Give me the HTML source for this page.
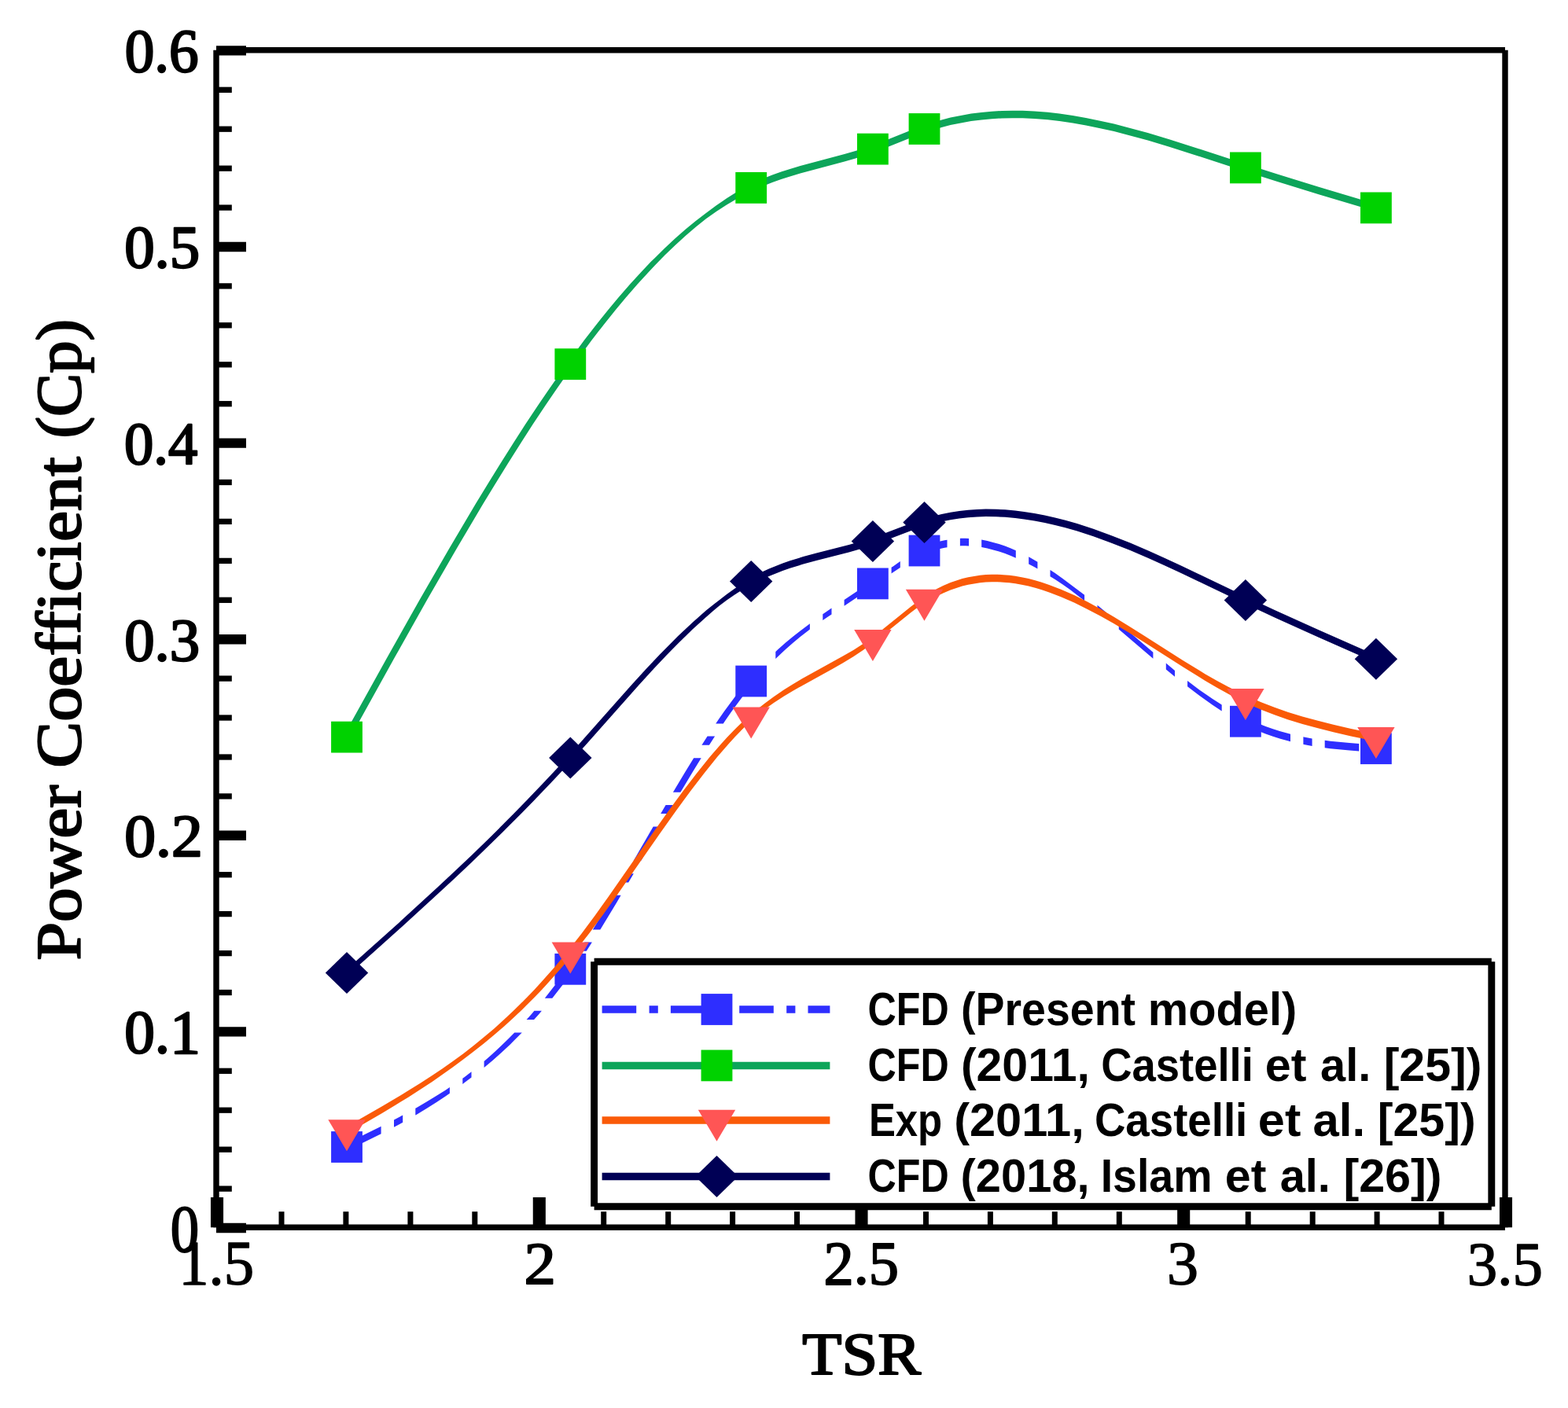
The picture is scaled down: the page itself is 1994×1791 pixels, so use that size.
<!DOCTYPE html>
<html lang="en"><head><meta charset="utf-8"><title>Power Coefficient vs TSR</title>
<style>html,body{margin:0;padding:0;background:#fff;}svg{display:block;}text{font-family:"Liberation Serif",serif;fill:#000;}.lg{font-family:"Liberation Sans",sans-serif;font-weight:bold;}</style></head><body>
<svg width="1994" height="1791" viewBox="0 0 1994 1791">
<rect width="1994" height="1791" fill="#fff"/>
<g id="series-blue">
<path d="M441.0,1454.2 L484.1,1433.1 L484.6,1432.8 L484.6,1442.3 L484.1,1442.6 L441.0,1463.8Z M501.0,1424.5 L512.2,1418.6 L512.2,1427.7 L501.0,1433.7Z M528.3,1409.7 L529.0,1409.4 L542.1,1401.8 L555.2,1393.8 L566.5,1386.7 L571.9,1383.0 L571.9,1390.8 L566.5,1394.6 L555.2,1402.1 L542.1,1410.3 L529.0,1418.2 L528.3,1418.6Z M588.3,1371.7 L590.8,1369.9 L599.5,1363.2 L599.5,1370.5 L590.8,1377.1 L588.3,1379.0Z M648.9,1319.1 L653.5,1323.8 L648.9,1328.4 L644.2,1323.8Z M615.6,1350.0 L626.4,1340.5 L637.6,1330.1 L648.9,1319.1 L648.9,1328.4 L637.6,1338.9 L626.4,1348.9 L615.6,1357.9Z M644.2,1323.8 L653.5,1314.3 L654.3,1313.4 L663.8,1313.4 L663.0,1314.3 L653.5,1323.8Z M669.6,1297.0 L675.9,1289.9 L679.4,1285.8 L688.9,1285.8 L685.4,1289.9 L679.1,1297.0Z M692.8,1269.7 L696.5,1265.0 L707.8,1250.4 L717.1,1237.6 L725.2,1226.1 L734.7,1226.1 L726.6,1237.6 L717.3,1250.4 L706.0,1265.0 L702.3,1269.7Z M736.3,1209.7 L743.4,1198.5 L752.9,1198.5 L745.8,1209.7Z M753.8,1182.4 L754.6,1181.2 L775.2,1147.3 L780.1,1138.8 L789.6,1138.8 L784.7,1147.3 L764.1,1181.2 L763.3,1182.4Z M789.7,1122.4 L796.3,1111.2 L805.8,1111.2 L799.2,1122.4Z M805.6,1095.1 L830.7,1051.5 L840.2,1051.5 L815.1,1095.1Z M840.2,1035.1 L846.6,1023.9 L856.1,1023.9 L849.7,1035.1Z M855.9,1007.8 L870.7,982.9 L882.2,964.2 L891.7,964.2 L880.2,982.9 L865.4,1007.8Z M892.4,947.8 L899.6,936.6 L909.1,936.6 L901.9,947.8Z M910.2,920.5 L913.7,915.3 L921.2,904.6 L936.2,884.2 L942.0,876.9 L951.5,876.9 L945.7,884.2 L930.7,904.6 L923.2,915.3 L919.7,920.5Z M955.6,860.5 L958.7,857.0 L965.8,849.3 L975.3,849.3 L968.2,857.0 L965.1,860.5Z M986.3,828.9 L989.7,825.8 L999.0,817.6 L1008.4,809.8 L1017.7,802.5 L1029.0,794.0 L1029.9,793.3 L1029.9,800.5 L1029.0,801.2 L1017.7,809.9 L1008.4,817.7 L999.0,825.9 L989.7,834.7 L986.3,838.0Z M1046.3,781.3 L1051.4,777.7 L1057.5,773.6 L1057.5,781.5 L1051.4,785.5 L1046.3,789.0Z M1073.6,762.9 L1102.0,743.9 L1117.2,733.3 L1117.2,741.0 L1102.0,751.7 L1073.6,770.7Z M1133.6,721.8 L1135.7,720.4 L1144.8,714.1 L1144.8,722.0 L1135.7,728.0 L1133.6,729.5Z M1160.9,703.6 L1165.7,700.8 L1175.0,696.0 L1182.5,692.8 L1188.1,690.8 L1195.6,688.6 L1201.2,687.3 L1204.5,686.8 L1204.5,696.3 L1201.2,696.8 L1195.6,698.1 L1188.1,700.3 L1182.5,702.3 L1175.0,705.5 L1165.7,709.9 L1160.9,712.5Z M1220.9,684.9 L1221.8,684.8 L1227.5,684.8 L1232.1,685.0 L1232.1,694.5 L1227.5,694.3 L1221.8,694.3 L1220.9,694.4Z M1248.2,686.6 L1255.6,688.0 L1263.0,689.9 L1270.5,692.0 L1278.0,694.6 L1285.5,697.5 L1291.8,700.2 L1291.8,709.7 L1285.5,707.0 L1278.0,704.1 L1270.5,701.5 L1263.0,699.4 L1255.6,697.5 L1248.2,696.1Z M1308.2,708.2 L1315.5,712.4 L1319.4,714.8 L1319.4,723.4 L1315.5,721.2 L1308.2,717.5Z M1335.5,725.0 L1341.7,729.1 L1351.1,735.7 L1360.4,742.7 L1379.1,756.8 L1379.1,764.2 L1360.4,749.8 L1351.1,743.3 L1341.7,737.1 L1335.5,733.2Z M1395.5,769.8 L1399.7,773.2 L1406.7,779.0 L1406.7,786.9 L1399.7,781.0 L1395.5,777.6Z M1422.8,792.5 L1466.4,829.7 L1466.4,837.8 L1422.8,800.6Z M1482.8,843.6 L1493.4,852.4 L1494.0,853.0 L1494.0,860.7 L1493.4,860.2 L1482.8,851.5Z M1510.1,865.9 L1525.2,877.4 L1542.0,889.0 L1553.7,896.4 L1553.7,904.6 L1542.0,896.8 L1525.2,884.7 L1510.1,873.3Z M1570.1,905.9 L1573.9,908.0 L1581.3,911.7 L1581.3,921.1 L1573.9,917.0 L1570.1,914.7Z M1597.4,919.1 L1600.1,920.3 L1609.5,924.0 L1618.8,927.3 L1628.2,930.2 L1637.5,932.8 L1641.0,933.7 L1641.0,943.2 L1637.5,942.3 L1628.2,939.7 L1618.8,936.8 L1609.5,933.5 L1600.1,929.8 L1597.4,928.6Z M1657.4,937.3 L1658.1,937.5 L1668.6,939.4 L1668.6,948.9 L1658.1,947.0 L1657.4,946.8Z M1684.7,941.8 L1691.9,942.7 L1716.2,945.1 L1728.3,945.9 L1728.3,955.4 L1716.2,954.6 L1691.9,952.2 L1684.7,951.3Z M1744.7,947.1 L1749.9,947.5 L1749.9,957.0 L1744.7,956.6Z" fill="#2E2EFF"/>
<rect x="421.1" y="1439.1" width="39.8" height="39.8" fill="#2E2EFF"/>
<rect x="705.4" y="1212.9" width="39.8" height="39.8" fill="#2E2EFF"/>
<rect x="935.3" y="846.6" width="39.8" height="39.8" fill="#2E2EFF"/>
<rect x="1090.0" y="722.5" width="39.8" height="39.8" fill="#2E2EFF"/>
<rect x="1155.6" y="680.6" width="39.8" height="39.8" fill="#2E2EFF"/>
<rect x="1564.0" y="897.8" width="39.8" height="39.8" fill="#2E2EFF"/>
<rect x="1730.0" y="932.3" width="39.8" height="39.8" fill="#2E2EFF"/>
</g>
<g id="series-green">
<path d="M832.4,328.4 L837.1,333.1 L832.4,337.9 L827.6,333.1Z M436.2,937.6 L492.4,836.3 L533.6,763.1 L571.1,698.0 L604.8,641.1 L621.6,613.4 L636.6,589.2 L653.5,562.5 L668.4,539.3 L683.4,516.7 L698.4,494.7 L713.4,473.2 L728.4,452.4 L743.3,432.3 L758.3,412.9 L773.3,394.2 L786.4,378.5 L801.4,361.3 L814.5,346.9 L827.6,333.1 L837.1,333.1 L824.0,346.9 L810.9,361.3 L795.9,378.5 L782.8,394.2 L767.8,412.9 L752.8,432.3 L737.9,452.4 L722.9,473.2 L707.9,494.7 L692.9,516.7 L677.9,539.3 L663.0,562.5 L646.1,589.2 L631.1,613.4 L614.3,641.1 L580.6,698.0 L543.1,763.1 L501.9,836.3 L445.8,937.6Z M832.4,328.4 L845.5,315.4 L858.6,303.2 L871.7,291.8 L884.8,281.0 L897.9,271.0 L911.0,261.3 L924.1,252.3 L937.2,244.1 L950.3,236.7 L959.7,232.0 L970.9,227.1 L982.2,222.6 L993.4,218.6 L1004.6,215.0 L1017.7,211.1 L1073.9,196.1 L1087.0,192.3 L1098.3,188.8 L1109.5,185.0 L1118.9,181.5 L1156.3,166.4 L1169.4,161.4 L1182.5,156.9 L1197.5,152.5 L1208.7,149.6 L1221.8,146.9 L1235.0,144.6 L1248.1,142.9 L1261.2,141.7 L1274.3,141.0 L1287.4,140.7 L1300.5,140.8 L1315.5,141.5 L1332.3,142.8 L1347.3,144.5 L1364.2,147.0 L1381.0,149.9 L1397.9,153.4 L1416.6,157.6 L1435.3,162.4 L1459.7,169.1 L1487.7,177.5 L1515.8,186.4 L1585.1,209.0 L1624.4,221.6 L1676.9,237.7 L1749.9,259.6 L1749.9,269.1 L1676.9,247.2 L1624.4,231.1 L1585.1,218.5 L1515.8,195.9 L1487.7,187.0 L1459.7,178.6 L1435.3,171.9 L1416.6,167.1 L1397.9,162.9 L1381.0,159.4 L1364.2,156.5 L1347.3,154.0 L1332.3,152.3 L1315.5,151.0 L1300.5,150.3 L1287.4,150.2 L1274.3,150.5 L1261.2,151.2 L1248.1,152.4 L1235.0,154.1 L1221.8,156.4 L1208.7,159.1 L1197.5,162.0 L1182.5,166.4 L1169.4,170.9 L1156.3,175.9 L1118.9,191.0 L1109.5,194.5 L1098.3,198.3 L1087.0,201.8 L1073.9,205.6 L1017.7,220.6 L1004.6,224.5 L993.4,228.1 L982.2,232.1 L970.9,236.6 L959.7,241.5 L950.3,246.0 L937.2,252.8 L924.1,260.5 L911.0,268.9 L897.9,278.2 L884.8,288.7 L871.7,300.0 L858.6,312.0 L845.5,324.6 L832.4,337.9Z" fill="#0DA55A"/>
<rect x="421.1" y="917.7" width="39.8" height="39.8" fill="#00D200"/>
<rect x="705.4" y="443.3" width="39.8" height="39.8" fill="#00D200"/>
<rect x="935.3" y="219.0" width="39.8" height="39.8" fill="#00D200"/>
<rect x="1090.0" y="169.7" width="39.8" height="39.8" fill="#00D200"/>
<rect x="1155.6" y="144.1" width="39.8" height="39.8" fill="#00D200"/>
<rect x="1564.0" y="193.5" width="39.8" height="39.8" fill="#00D200"/>
<rect x="1730.0" y="244.5" width="39.8" height="39.8" fill="#00D200"/>
</g>
<g id="series-orange">
<path d="M663.8,1275.1 L668.5,1279.7 L663.8,1284.4 L659.2,1279.7Z M441.0,1433.1 L485.9,1407.2 L502.8,1397.3 L519.6,1387.1 L534.6,1377.7 L549.6,1368.0 L562.7,1359.2 L575.8,1350.0 L588.9,1340.5 L602.0,1330.3 L615.1,1319.6 L628.3,1308.4 L641.4,1296.6 L652.6,1286.1 L663.8,1275.1 L663.8,1284.4 L652.6,1295.0 L641.4,1305.2 L628.3,1316.5 L615.1,1327.4 L602.0,1337.7 L588.9,1347.7 L575.8,1357.4 L562.7,1366.8 L549.6,1375.9 L534.6,1385.8 L519.6,1395.4 L502.8,1405.8 L485.9,1415.9 L441.0,1441.9Z M937.2,925.1 L942.0,929.8 L937.2,934.6 L932.5,929.8Z M659.2,1279.7 L670.3,1268.5 L679.7,1258.7 L689.0,1248.6 L705.9,1229.5 L722.7,1209.1 L739.6,1187.4 L756.5,1164.7 L773.3,1141.2 L829.5,1060.6 L850.1,1031.5 L868.8,1005.9 L885.7,983.9 L902.5,963.0 L917.5,945.7 L925.0,937.6 L932.5,929.8 L942.0,929.8 L934.5,937.6 L927.0,945.7 L912.0,963.0 L895.2,983.9 L878.3,1005.9 L859.6,1031.5 L839.0,1060.6 L782.8,1141.2 L766.0,1164.7 L749.1,1187.4 L732.2,1209.1 L715.4,1229.5 L698.5,1248.6 L689.2,1258.7 L679.8,1268.5 L668.5,1279.7Z M937.2,925.1 L944.7,917.8 L952.2,911.1 L961.6,903.3 L972.8,894.6 L984.0,886.3 L997.1,877.3 L1008.4,870.2 L1019.6,863.5 L1058.9,841.8 L1072.0,834.5 L1085.2,826.9 L1098.3,818.6 L1107.6,812.2 L1117.0,805.0 L1158.2,771.7 L1167.5,764.8 L1175.0,759.3 L1182.5,754.3 L1191.9,748.8 L1199.4,745.0 L1208.7,741.0 L1216.2,738.4 L1223.7,736.1 L1231.2,734.3 L1238.7,732.9 L1246.2,731.8 L1253.7,731.1 L1261.2,730.8 L1268.7,730.8 L1276.1,731.2 L1283.6,731.8 L1291.1,732.8 L1300.5,734.5 L1308.0,736.1 L1317.3,738.6 L1324.8,740.8 L1334.2,743.9 L1349.2,749.7 L1366.0,757.1 L1382.9,765.5 L1399.7,774.8 L1416.6,784.7 L1435.3,796.2 L1454.0,808.0 L1504.6,840.3 L1532.7,857.4 L1547.7,865.9 L1562.6,873.9 L1575.8,880.5 L1588.9,886.7 L1603.8,893.2 L1620.7,899.8 L1637.5,905.7 L1656.3,911.5 L1675.0,916.6 L1695.6,921.8 L1718.1,926.9 L1749.9,933.6 L1749.9,943.1 L1718.1,936.4 L1695.6,931.3 L1675.0,926.1 L1656.3,921.0 L1637.5,915.2 L1620.7,909.3 L1603.8,902.7 L1588.9,896.2 L1575.8,890.0 L1562.6,883.1 L1547.7,874.8 L1532.7,865.9 L1504.6,848.5 L1454.0,816.2 L1435.3,804.6 L1416.6,793.3 L1399.7,783.8 L1382.9,774.9 L1366.0,766.6 L1349.2,759.2 L1334.2,753.4 L1324.8,750.3 L1317.3,748.1 L1308.0,745.6 L1300.5,744.0 L1291.1,742.3 L1283.6,741.3 L1276.1,740.7 L1268.7,740.3 L1261.2,740.3 L1253.7,740.6 L1246.2,741.3 L1238.7,742.4 L1231.2,743.8 L1223.7,745.6 L1216.2,747.9 L1208.7,750.5 L1199.4,754.5 L1191.9,758.0 L1182.5,762.9 L1175.0,767.3 L1167.5,772.2 L1158.2,779.3 L1117.0,812.6 L1107.6,819.5 L1098.3,826.4 L1085.2,835.2 L1072.0,843.2 L1058.9,850.8 L1019.6,872.4 L1008.4,878.8 L997.1,885.5 L984.0,893.9 L972.8,901.9 L961.6,911.2 L952.2,919.7 L944.7,927.0 L937.2,934.6Z" fill="#FA5A08"/>
<polygon points="417.3,1424.2 464.7,1424.2 441.0,1464.2" fill="#FF5555"/>
<polygon points="701.6,1198.5 749.0,1198.5 725.3,1238.5" fill="#FF5555"/>
<polygon points="931.5,899.4 978.9,899.4 955.2,939.4" fill="#FF5555"/>
<polygon points="1086.2,800.9 1133.6,800.9 1109.9,840.9" fill="#FF5555"/>
<polygon points="1151.8,749.7 1199.2,749.7 1175.5,789.7" fill="#FF5555"/>
<polygon points="1560.2,875.9 1607.6,875.9 1583.9,915.9" fill="#FF5555"/>
<polygon points="1726.2,925.1 1773.6,925.1 1749.9,965.1" fill="#FF5555"/>
</g>
<g id="series-navy">
<path d="M639.5,1048.9 L644.2,1053.6 L639.5,1058.3 L634.8,1053.6Z M441.0,1233.1 L506.5,1174.4 L555.2,1129.8 L577.7,1108.8 L600.2,1087.4 L620.8,1067.4 L639.5,1048.9 L639.5,1058.3 L620.8,1076.6 L600.2,1096.5 L577.7,1117.7 L555.2,1138.6 L506.5,1183.0 L441.0,1241.7Z M862.3,809.0 L867.0,813.7 L862.3,818.4 L857.6,813.7Z M634.8,1053.6 L653.5,1034.8 L672.2,1015.6 L690.9,996.0 L707.8,977.9 L735.9,947.0 L803.3,871.1 L822.0,850.6 L838.8,832.8 L857.6,813.7 L867.0,813.7 L848.3,832.8 L831.5,850.6 L812.8,871.1 L745.4,947.0 L717.3,977.9 L700.4,996.0 L681.7,1015.6 L663.0,1034.8 L644.2,1053.6Z M862.3,809.0 L881.0,791.4 L897.9,776.6 L907.3,768.9 L914.8,763.2 L924.1,756.1 L933.5,749.2 L942.8,742.8 L950.3,738.0 L959.7,732.5 L969.1,727.5 L978.4,723.3 L987.8,719.4 L995.3,716.6 L1004.6,713.3 L1021.5,708.1 L1038.3,703.5 L1079.5,693.0 L1090.8,689.8 L1102.0,686.4 L1111.4,683.3 L1120.7,680.0 L1160.1,665.0 L1176.9,659.3 L1186.3,656.7 L1197.5,653.9 L1208.7,651.7 L1220.0,650.0 L1231.2,648.8 L1242.4,648.0 L1253.7,647.6 L1266.8,647.8 L1278.0,648.3 L1291.1,649.5 L1302.4,650.9 L1315.5,652.9 L1328.6,655.5 L1341.7,658.4 L1354.8,661.8 L1369.8,666.1 L1390.4,672.7 L1412.8,680.9 L1437.2,690.5 L1461.5,701.0 L1480.3,709.4 L1500.9,718.9 L1581.4,757.5 L1622.6,776.8 L1676.9,801.3 L1749.9,833.5 L1749.9,843.0 L1676.9,810.8 L1622.6,786.3 L1581.4,767.0 L1500.9,728.4 L1480.3,718.9 L1461.5,710.5 L1437.2,700.0 L1412.8,690.4 L1390.4,682.2 L1369.8,675.6 L1354.8,671.3 L1341.7,667.9 L1328.6,665.0 L1315.5,662.4 L1302.4,660.4 L1291.1,659.0 L1278.0,657.8 L1266.8,657.3 L1253.7,657.1 L1242.4,657.5 L1231.2,658.3 L1220.0,659.5 L1208.7,661.2 L1197.5,663.4 L1186.3,666.2 L1176.9,668.8 L1160.1,674.5 L1120.7,689.5 L1111.4,692.8 L1102.0,695.9 L1090.8,699.3 L1079.5,702.5 L1038.3,713.0 L1021.5,717.6 L1004.6,722.8 L995.3,726.1 L987.8,728.9 L978.4,732.8 L969.1,737.0 L959.7,741.6 L950.3,746.7 L942.8,751.0 L933.5,756.9 L924.1,763.4 L914.8,770.6 L907.3,776.8 L897.9,784.9 L881.0,800.2 L862.3,818.4Z" fill="#000055"/>
<polygon points="413.8,1237.4 441.0,1210.9 468.2,1237.4 441.0,1263.9" fill="#000055"/>
<polygon points="698.1,964.0 725.3,937.5 752.5,964.0 725.3,990.5" fill="#000055"/>
<polygon points="928.0,739.5 955.2,713.0 982.4,739.5 955.2,766.0" fill="#000055"/>
<polygon points="1082.7,688.6 1109.9,662.1 1137.1,688.6 1109.9,715.1" fill="#000055"/>
<polygon points="1148.3,664.5 1175.5,638.0 1202.7,664.5 1175.5,691.0" fill="#000055"/>
<polygon points="1556.7,763.5 1583.9,737.0 1611.1,763.5 1583.9,790.0" fill="#000055"/>
<polygon points="1722.7,838.3 1749.9,811.8 1777.1,838.3 1749.9,864.8" fill="#000055"/>
</g>
<g id="axes" stroke="#000" fill="none" stroke-linecap="butt">
<line x1="275.0" y1="63.75" x2="1914.0" y2="63.75" stroke-width="7.4"/>
<line x1="275.0" y1="1561.3" x2="1914.0" y2="1561.3" stroke-width="7.4"/>
<line x1="275.0" y1="63.75" x2="275.0" y2="1561.3" stroke-width="7.4"/>
<line x1="1914.0" y1="63.75" x2="1914.0" y2="1561.3" stroke-width="7.4"/>
<line x1="275.0" y1="1562.0" x2="313" y2="1562.0" stroke-width="12.4"/>
<line x1="275.0" y1="1512.1" x2="294.8" y2="1512.1" stroke-width="7.3"/>
<line x1="275.0" y1="1462.2" x2="294.8" y2="1462.2" stroke-width="7.3"/>
<line x1="275.0" y1="1412.2" x2="294.8" y2="1412.2" stroke-width="7.3"/>
<line x1="275.0" y1="1362.3" x2="294.8" y2="1362.3" stroke-width="7.3"/>
<line x1="275.0" y1="1312.4" x2="313" y2="1312.4" stroke-width="12.4"/>
<line x1="275.0" y1="1262.5" x2="294.8" y2="1262.5" stroke-width="7.3"/>
<line x1="275.0" y1="1212.6" x2="294.8" y2="1212.6" stroke-width="7.3"/>
<line x1="275.0" y1="1162.6" x2="294.8" y2="1162.6" stroke-width="7.3"/>
<line x1="275.0" y1="1112.7" x2="294.8" y2="1112.7" stroke-width="7.3"/>
<line x1="275.0" y1="1062.8" x2="313" y2="1062.8" stroke-width="12.4"/>
<line x1="275.0" y1="1012.9" x2="294.8" y2="1012.9" stroke-width="7.3"/>
<line x1="275.0" y1="963.0" x2="294.8" y2="963.0" stroke-width="7.3"/>
<line x1="275.0" y1="913.0" x2="294.8" y2="913.0" stroke-width="7.3"/>
<line x1="275.0" y1="863.1" x2="294.8" y2="863.1" stroke-width="7.3"/>
<line x1="275.0" y1="813.2" x2="313" y2="813.2" stroke-width="12.4"/>
<line x1="275.0" y1="763.3" x2="294.8" y2="763.3" stroke-width="7.3"/>
<line x1="275.0" y1="713.4" x2="294.8" y2="713.4" stroke-width="7.3"/>
<line x1="275.0" y1="663.4" x2="294.8" y2="663.4" stroke-width="7.3"/>
<line x1="275.0" y1="613.5" x2="294.8" y2="613.5" stroke-width="7.3"/>
<line x1="275.0" y1="563.6" x2="313" y2="563.6" stroke-width="12.4"/>
<line x1="275.0" y1="513.7" x2="294.8" y2="513.7" stroke-width="7.3"/>
<line x1="275.0" y1="463.8" x2="294.8" y2="463.8" stroke-width="7.3"/>
<line x1="275.0" y1="413.8" x2="294.8" y2="413.8" stroke-width="7.3"/>
<line x1="275.0" y1="363.9" x2="294.8" y2="363.9" stroke-width="7.3"/>
<line x1="275.0" y1="314.0" x2="313" y2="314.0" stroke-width="12.4"/>
<line x1="275.0" y1="264.1" x2="294.8" y2="264.1" stroke-width="7.3"/>
<line x1="275.0" y1="214.2" x2="294.8" y2="214.2" stroke-width="7.3"/>
<line x1="275.0" y1="164.2" x2="294.8" y2="164.2" stroke-width="7.3"/>
<line x1="275.0" y1="114.3" x2="294.8" y2="114.3" stroke-width="7.3"/>
<line x1="275.0" y1="64.4" x2="313" y2="64.4" stroke-width="12.4"/>
<line x1="276.0" y1="1561.3" x2="276.0" y2="1523" stroke-width="16.1"/>
<line x1="358.0" y1="1561.3" x2="358.0" y2="1541.2" stroke-width="7"/>
<line x1="439.9" y1="1561.3" x2="439.9" y2="1541.2" stroke-width="7"/>
<line x1="521.9" y1="1561.3" x2="521.9" y2="1541.2" stroke-width="7"/>
<line x1="603.8" y1="1561.3" x2="603.8" y2="1541.2" stroke-width="7"/>
<line x1="685.8" y1="1561.3" x2="685.8" y2="1523" stroke-width="16.1"/>
<line x1="767.7" y1="1561.3" x2="767.7" y2="1541.2" stroke-width="7"/>
<line x1="849.7" y1="1561.3" x2="849.7" y2="1541.2" stroke-width="7"/>
<line x1="931.6" y1="1561.3" x2="931.6" y2="1541.2" stroke-width="7"/>
<line x1="1013.5" y1="1561.3" x2="1013.5" y2="1541.2" stroke-width="7"/>
<line x1="1095.5" y1="1561.3" x2="1095.5" y2="1523" stroke-width="16.1"/>
<line x1="1177.5" y1="1561.3" x2="1177.5" y2="1541.2" stroke-width="7"/>
<line x1="1259.4" y1="1561.3" x2="1259.4" y2="1541.2" stroke-width="7"/>
<line x1="1341.3" y1="1561.3" x2="1341.3" y2="1541.2" stroke-width="7"/>
<line x1="1423.3" y1="1561.3" x2="1423.3" y2="1541.2" stroke-width="7"/>
<line x1="1505.2" y1="1561.3" x2="1505.2" y2="1523" stroke-width="16.1"/>
<line x1="1587.2" y1="1561.3" x2="1587.2" y2="1541.2" stroke-width="7"/>
<line x1="1669.2" y1="1561.3" x2="1669.2" y2="1541.2" stroke-width="7"/>
<line x1="1751.1" y1="1561.3" x2="1751.1" y2="1541.2" stroke-width="7"/>
<line x1="1833.0" y1="1561.3" x2="1833.0" y2="1541.2" stroke-width="7"/>
<line x1="1915.0" y1="1561.3" x2="1915.0" y2="1523" stroke-width="16.1"/>
</g>
<g id="ylabels">
<text transform="translate(216.80,1592.12) scale(0.8630,1.0000)" font-size="84.3" stroke="#000" stroke-width="2.0" stroke-linejoin="round">0</text>
<text transform="translate(158.24,1338.75) scale(1.0008,1.0000)" font-size="77.2" stroke="#000" stroke-width="2.4" stroke-linejoin="round">0.1</text>
<text transform="translate(158.23,1089.15) scale(1.0308,1.0000)" font-size="77.2" stroke="#000" stroke-width="2.4" stroke-linejoin="round">0.2</text>
<text transform="translate(158.19,839.55) scale(0.9935,1.0000)" font-size="77.2" stroke="#000" stroke-width="2.4" stroke-linejoin="round">0.3</text>
<text transform="translate(157.94,589.95) scale(0.9666,1.0000)" font-size="77.2" stroke="#000" stroke-width="2.4" stroke-linejoin="round">0.4</text>
<text transform="translate(158.22,340.35) scale(0.9940,1.0000)" font-size="77.2" stroke="#000" stroke-width="2.4" stroke-linejoin="round">0.5</text>
<text transform="translate(158.64,90.75) scale(0.9728,1.0000)" font-size="77.2" stroke="#000" stroke-width="2.4" stroke-linejoin="round">0.6</text>
</g><g id="xlabels">
<text transform="translate(275.20,1634.40) scale(0.9583,1.0000)" font-size="80.06" stroke="#000" stroke-width="1.5" stroke-linejoin="round" text-anchor="middle">1.5</text>
<text transform="translate(686.74,1633.13) scale(1.0564,1.0000)" font-size="76.43" stroke="#000" stroke-width="2.0" stroke-linejoin="round" text-anchor="middle">2</text>
<text transform="translate(1095.33,1633.18) scale(0.9794,1.0000)" font-size="77.95" stroke="#000" stroke-width="2.0" stroke-linejoin="round" text-anchor="middle">2.5</text>
<text transform="translate(1504.09,1633.28) scale(1.0250,1.0000)" font-size="78.03" stroke="#000" stroke-width="1.5" stroke-linejoin="round" text-anchor="middle">3</text>
<text transform="translate(1913.90,1633.88) scale(0.9700,1.0000)" font-size="79.24" stroke="#000" stroke-width="1.5" stroke-linejoin="round" text-anchor="middle">3.5</text>
</g>
<text transform="translate(1095.66,1747.63) scale(1.0751,1.0000)" font-size="76.43" stroke="#000" stroke-width="2.2" stroke-linejoin="round" text-anchor="middle">TSR</text>
<text id="ytitle" transform="translate(102.2,1220.2) rotate(-90)" font-size="80.8" stroke="#000" stroke-width="2.2" stroke-linejoin="round"><tspan x="-1.4" textLength="223.0" lengthAdjust="spacingAndGlyphs">Power</tspan> <tspan x="243.5" textLength="395.4" lengthAdjust="spacingAndGlyphs">Coefficient</tspan> <tspan x="662.8" textLength="151.5" lengthAdjust="spacingAndGlyphs">(Cp)</tspan></text>
<g id="legend">
<rect x="755.6" y="1223.2" width="1141.2" height="311.5" fill="#fff"/>
<g stroke="#000" stroke-width="8.9" fill="none">
<line x1="755.6" y1="1223.2" x2="1896.8" y2="1223.2"/>
<line x1="755.6" y1="1534.7" x2="1896.8" y2="1534.7"/>
<line x1="755.6" y1="1223.2" x2="755.6" y2="1534.7"/>
<line x1="1896.8" y1="1223.2" x2="1896.8" y2="1534.7"/>
</g>
<path d="M765.6,1279.2 L809.2,1279.2 L809.2,1288.8 L765.6,1288.8Z M825.6,1279.2 L836.8,1279.2 L836.8,1288.8 L825.6,1288.8Z M852.9,1279.2 L896.5,1279.2 L896.5,1288.8 L852.9,1288.8Z M912.9,1279.2 L924.1,1279.2 L924.1,1288.8 L912.9,1288.8Z M940.2,1279.2 L983.8,1279.2 L983.8,1288.8 L940.2,1288.8Z M1000.2,1279.2 L1011.4,1279.2 L1011.4,1288.8 L1000.2,1288.8Z M1027.5,1279.2 L1055.4,1279.2 L1055.4,1288.8 L1027.5,1288.8Z" fill="#2E2EFF"/>
<rect x="891.6" y="1264.1" width="39.8" height="39.8" fill="#2E2EFF"/>
<path d="M765.6,1350.7 L1055.4,1350.7 L1055.4,1360.2 L765.6,1360.2Z" fill="#0DA55A"/>
<rect x="891.6" y="1335.5" width="39.8" height="39.8" fill="#00D200"/>
<path d="M765.6,1420.3 L1055.4,1420.3 L1055.4,1429.8 L765.6,1429.8Z" fill="#FA5A08"/>
<polygon points="887.8,1411.8 935.2,1411.8 911.5,1451.8" fill="#FF5555"/>
<path d="M765.6,1491.7 L1055.4,1491.7 L1055.4,1501.2 L765.6,1501.2Z" fill="#000055"/>
<polygon points="884.3,1496.4 911.5,1469.9 938.7,1496.4 911.5,1522.9" fill="#000055"/>
<text class="lg" y="1304.2" font-size="58.7"><tspan x="1103.6" textLength="103.2" lengthAdjust="spacingAndGlyphs">CFD</tspan> <tspan x="1222.0" textLength="222.1" lengthAdjust="spacingAndGlyphs">(Present</tspan> <tspan x="1459.8" textLength="189.4" lengthAdjust="spacingAndGlyphs">model)</tspan></text>
<text class="lg" y="1374.8" font-size="58.7"><tspan x="1103.6" textLength="103.2" lengthAdjust="spacingAndGlyphs">CFD</tspan> <tspan x="1221.9" textLength="164.1" lengthAdjust="spacingAndGlyphs">(2011,</tspan> <tspan x="1400.2" textLength="193.6" lengthAdjust="spacingAndGlyphs">Castelli</tspan> <tspan x="1608.7" textLength="52.7" lengthAdjust="spacingAndGlyphs">et</tspan> <tspan x="1679.1" textLength="64.2" lengthAdjust="spacingAndGlyphs">al.</tspan> <tspan x="1759.7" textLength="124.8" lengthAdjust="spacingAndGlyphs">[25])</tspan></text>
<text class="lg" y="1444.6" font-size="58.7"><tspan x="1104.9" textLength="93.3" lengthAdjust="spacingAndGlyphs">Exp</tspan> <tspan x="1213.2" textLength="165.5" lengthAdjust="spacingAndGlyphs">(2011,</tspan> <tspan x="1391.9" textLength="194.4" lengthAdjust="spacingAndGlyphs">Castelli</tspan> <tspan x="1599.8" textLength="54.5" lengthAdjust="spacingAndGlyphs">et</tspan> <tspan x="1669.6" textLength="66.5" lengthAdjust="spacingAndGlyphs">al.</tspan> <tspan x="1751.7" textLength="125.0" lengthAdjust="spacingAndGlyphs">[25])</tspan></text>
<text class="lg" y="1515.9" font-size="58.7"><tspan x="1103.6" textLength="103.2" lengthAdjust="spacingAndGlyphs">CFD</tspan> <tspan x="1221.5" textLength="164.2" lengthAdjust="spacingAndGlyphs">(2018,</tspan> <tspan x="1399.7" textLength="141.8" lengthAdjust="spacingAndGlyphs">Islam</tspan> <tspan x="1557.8" textLength="52.6" lengthAdjust="spacingAndGlyphs">et</tspan> <tspan x="1627.7" textLength="64.2" lengthAdjust="spacingAndGlyphs">al.</tspan> <tspan x="1708.4" textLength="125.2" lengthAdjust="spacingAndGlyphs">[26])</tspan></text>
</g>
</svg></body></html>
